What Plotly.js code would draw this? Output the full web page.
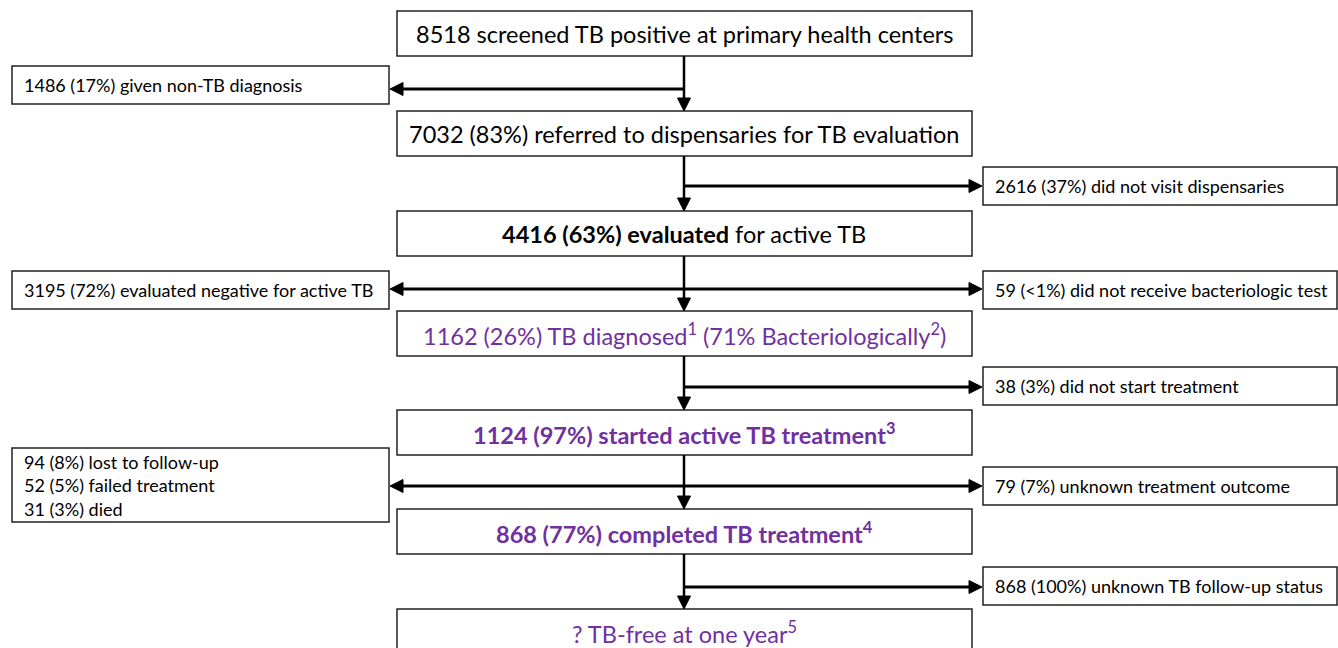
<!DOCTYPE html>
<html>
<head>
<meta charset="utf-8">
<script src="https://cdn.plot.ly/plotly-3.0.1.min.js"></script>
<style>html,body{margin:0;padding:0;background:#fff;}#chart{width:1338px;height:648px;}</style>
</head>
<body>
<div id="chart"></div>
<script>
// ---- Data: flow stages ----
const mainLabels = [
  "8518 screened TB positive at primary health centers",
  "7032 (83%) referred to dispensaries for TB evaluation",
  "<b>4416 (63%) evaluated</b> for active TB",
  "1162 (26%) TB diagnosed<sup>1</sup> (71% Bacteriologically<sup>2</sup>)",
  "<b>1124 (97%) started active TB treatment<sup>3</sup></b>",
  "<b>868 (77%) completed TB treatment<sup>4</sup></b>",
  "? TB-free at one year<sup>5</sup>"
];
const mainColors = ["black", "black", "black", "purple", "purple", "purple", "purple"];

// exits: after stage index, side, label
const exitStage = [0, 1, 2, 2, 3, 4, 4, 5];
const exitSide = ["left", "right", "left", "right", "right", "left", "right", "right"];
const exitLabels = [
  "1486 (17%) given non-TB diagnosis",
  "2616 (37%) did not visit dispensaries",
  "3195 (72%) evaluated negative for active TB",
  "59 (<1%) did not receive bacteriologic test",
  "38 (3%) did not start treatment",
  "94 (8%) lost to follow-up<br>52 (5%) failed treatment<br>31 (3%) died",
  "79 (7%) unknown treatment outcome",
  "868 (100%) unknown TB follow-up status"
];

// ---- Layout geometry (pixels) ----
const MX0 = 397, MX1 = 972, CX = 684;
const mainTop = [11, 111, 211, 311, 410, 509, 609];
const mainH = 45;
const LX0 = 12, LX1 = 389, RX0 = 983, RX1 = 1337;
const exitBox = [[66, 104], [167, 205], [271, 309], [271, 309], [367, 405], [448, 522], [467, 505], [567, 605]];
const exitArrowY = [89, 186, 289, 289, 387, 486, 486, 587];

const PURPLE = "#7030A0";
const FONT = "Lato, 'Open Sans', sans-serif";
const shapes = [];
const annotations = [];

function rect(x0, y0, x1, y1) {
  shapes.push({type: "rect", xref: "x", yref: "y", x0, y0, x1, y1,
    line: {color: "#222", width: 1.5}, fillcolor: "white", layer: "above"});
}
function line(x0, y0, x1, y1, w) {
  shapes.push({type: "line", xref: "x", yref: "y", x0, y0, x1, y1,
    line: {color: "black", width: w}, layer: "above"});
}
function head(x, y, dir) {
  const L = 13, W = 6.5;
  let p;
  if (dir === "down") p = `M${x},${y} L${x - W},${y - L} L${x + W},${y - L} Z`;
  else if (dir === "left") p = `M${x},${y} L${x + L},${y - W} L${x + L},${y + W} Z`;
  else p = `M${x},${y} L${x - L},${y - W} L${x - L},${y + W} Z`;
  shapes.push({type: "path", xref: "x", yref: "y", path: p, fillcolor: "black",
    line: {color: "black", width: 1}, layer: "above"});
}

// main boxes
mainLabels.forEach((t, i) => {
  const y0 = mainTop[i], y1 = i === mainLabels.length - 1 ? 670 : mainTop[i] + mainH;
  rect(MX0, y0, MX1, y1);
  annotations.push({xref: "x", yref: "y", x: CX, y: y0 + 23, text: t, showarrow: false,
    xanchor: "center", yanchor: "middle",
    font: {family: FONT, size: 23.5, color: mainColors[i] === "purple" ? PURPLE : "black"}});
});
// vertical connectors
for (let i = 0; i < mainLabels.length - 1; i++) {
  const ys = mainTop[i] + mainH, ye = mainTop[i + 1];
  line(CX, ys, CX, ye - 12, 2.5);
  head(CX, ye, "down");
}
// exit boxes and arrows
exitLabels.forEach((t, k) => {
  const [y0, y1] = exitBox[k];
  const ay = exitArrowY[k];
  if (exitSide[k] === "left") {
    rect(LX0, y0, LX1, y1);
    line(CX, ay, LX1 + 12, ay, 2.8);
    head(LX1 + 1, ay, "left");
    annotations.push({xref: "x", yref: "y", x: 22, y: (y0 + y1) / 2, text: t, showarrow: false,
      xanchor: "left", yanchor: "middle", align: "left",
      font: {family: FONT, size: 18, color: "black"}});
  } else {
    rect(RX0, y0, RX1, y1);
    line(CX, ay, RX0 - 12, ay, 2.8);
    head(RX0 - 1, ay, "right");
    annotations.push({xref: "x", yref: "y", x: 993, y: (y0 + y1) / 2, text: t, showarrow: false,
      xanchor: "left", yanchor: "middle", align: "left",
      font: {family: FONT, size: 18, color: "black"}});
  }
});

const layout = {
  width: 1338, height: 648,
  margin: {l: 0, r: 0, t: 0, b: 0},
  paper_bgcolor: "white", plot_bgcolor: "white",
  xaxis: {range: [0, 1338], visible: false, fixedrange: true},
  yaxis: {range: [648, 0], visible: false, fixedrange: true},
  shapes, annotations, showlegend: false
};
Plotly.newPlot("chart", [], layout, {staticPlot: true, displayModeBar: false});
</script>
</body>
</html>
